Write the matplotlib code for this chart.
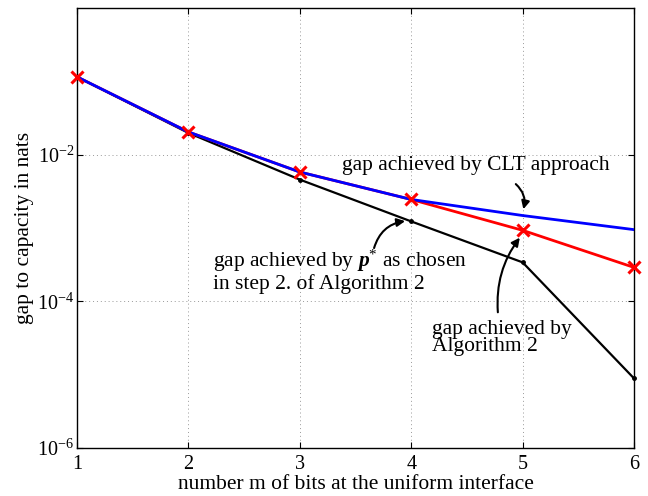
import numpy as np
import matplotlib
matplotlib.use("Agg")
import matplotlib.pyplot as plt

plt.rcParams['font.family'] = ['Liberation Serif', 'DejaVu Serif']
plt.rcParams['mathtext.fontset'] = 'custom'
plt.rcParams['mathtext.rm'] = 'Liberation Serif'
plt.rcParams['mathtext.it'] = 'Liberation Serif:italic'
plt.rcParams['mathtext.bf'] = 'Liberation Serif:bold:italic'

# data
m_bits = [1, 2, 3, 4, 5, 6]
gap_alg2 = [0.115, 0.0204, 0.0058, 0.00245, 0.00093, 0.00029]
gap_clt = [0.115, 0.0204, 0.0058, 0.00245, 0.00148, 0.00095]
gap_pstar = [0.115, 0.0198, 0.00457, 0.00123, 0.00034, 0.0000089]

y_ticks = [1e-6, 1e-4, 1e-2]
y_ticklabels = ['$\\mathregular{10^{-6}}$', '$\\mathregular{10^{-4}}$', '$\\mathregular{10^{-2}}$']

fig = plt.figure(figsize=(6.48, 4.96), dpi=100)
ax = fig.add_axes([77/648, 1 - 448/496, (634 - 77)/648, (448 - 8)/496])

# black curve, red line, blue line on top, red crosses on top of all
ax.plot(m_bits, gap_pstar, color='black', lw=1.6, zorder=2)
ax.plot(m_bits, gap_pstar, color='black', lw=0, marker='.', ms=5, zorder=2, clip_on=False)
ax.plot(m_bits, gap_alg2, color='red', lw=2.0, zorder=3)
ax.plot(m_bits, gap_clt, color='blue', lw=2.0, zorder=4)
ax.plot(m_bits, gap_alg2, color='red', lw=0, marker='x', ms=9, mew=2.2, zorder=5, clip_on=False)

ax.set_yscale('log')
ax.set_xlim(1, 6)
ax.set_ylim(1e-6, 1)
ax.set_yticks(y_ticks)
ax.set_yticklabels(y_ticklabels)
ax.yaxis.set_minor_locator(matplotlib.ticker.NullLocator())
ax.set_xticks(m_bits)
ax.tick_params(direction='in', labelsize=14.5, right=True, top=True, length=4)
ax.tick_params(axis='y', pad=2)
ax.tick_params(axis='x', pad=5)
ax.grid(True, color='#999999', ls=(0, (1, 3)), lw=0.7)
for s in ax.spines.values():
    s.set_linewidth(1.0)

ax.set_xlabel('number m of bits at the uniform interface', fontsize=15.5, labelpad=1)
ax.set_ylabel('gap to capacity in nats', fontsize=15.5, labelpad=2)

ax.text(3.38, 0.0071, 'gap achieved by CLT approach', fontsize=15.5, va='center')
ax.annotate('', xy=(5.0, gap_clt[4] * 1.12), xytext=(4.92, 0.0042),
            arrowprops=dict(arrowstyle='-|>', color='black', lw=1.5,
                            connectionstyle='arc3,rad=-0.35', mutation_scale=12))

ax.text(2.22, 2.6e-4, 'gap achieved by $\\mathbf{p}^{*}$ as chosen\nin step 2. of Algorithm 2',
        fontsize=15.5, va='center', linespacing=0.95)
ax.annotate('', xy=(3.97, gap_pstar[3] * 1.02), xytext=(3.66, 4.9e-4),
            arrowprops=dict(arrowstyle='-|>', color='black', lw=1.5,
                            connectionstyle='arc3,rad=-0.35', mutation_scale=12))

ax.text(4.19, 3.2e-5, 'gap achieved by\nAlgorithm 2', fontsize=15.5, va='center', linespacing=0.85)
ax.annotate('', xy=(4.99, gap_alg2[4] * 0.85), xytext=(4.78, 6.5e-5),
            arrowprops=dict(arrowstyle='-|>', color='black', lw=1.5,
                            connectionstyle='arc3,rad=-0.2', mutation_scale=12))

fig.savefig('out.png', dpi=100)
